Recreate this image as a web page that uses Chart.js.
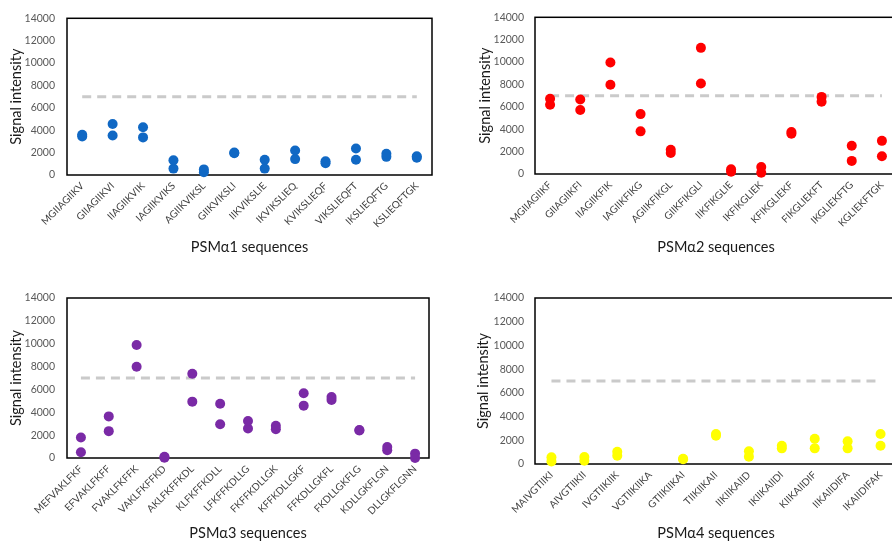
<!DOCTYPE html>
<html>
<head>
<meta charset="utf-8">
<script src="https://cdn.jsdelivr.net/npm/chart.js@4.4.1/dist/chart.umd.min.js"></script>
<style>
  html, body { margin: 0; padding: 0; background: #fff; }
  body { width: 892px; height: 542px; position: relative; overflow: hidden; }
  .panel { position: absolute; overflow: hidden; height: 271px; }
  canvas { display: block; }
</style>
</head>
<body>
<div class="panel" style="left:0;top:0;width:446px"><canvas id="c1" width="446" height="271"></canvas></div>
<div class="panel" style="left:446px;top:0;width:446px"><canvas id="c2" width="460" height="271"></canvas></div>
<div class="panel" style="left:0;top:271px;width:446px"><canvas id="c3" width="446" height="271"></canvas></div>
<div class="panel" style="left:446px;top:271px;width:446px"><canvas id="c4" width="460" height="271"></canvas></div>
<script>
// ---------- data ----------
const threshold = 7000;
const yTickMin = 0, yTickMax = 14000, yTickStep = 2000;
const yTitle = "Signal intensity";

const labels1 = ["MGIIAGIIKV","GIIAGIIKVI","IIAGIIKVIK","IAGIIKVIKS","AGIIKVIKSL","GIIKVIKSLI","IIKVIKSLIE","IKVIKSLIEQ","KVIKSLIEQF","VIKSLIEQFT","IKSLIEQFTG","KSLIEQFTGK"];
const rep1_a1 = [3600, 4550, 4270, 1310, 500, 2000, 1370, 2190, 1220, 2360, 1900, 1680];
const rep2_a1 = [3450, 3530, 3360, 570, 250, 1950, 570, 1420, 1050, 1370, 1620, 1540];

const labels2 = ["MGIIAGIIKF","GIIAGIIKFI","IIAGIIKFIK","IAGIIKFIKG","AGIIKFIKGL","GIIKFIKGLI","IIKFIKGLIE","IKFIKGLIEK","KFIKGLIEKF","FIKGLIEKFT","IKGLIEKFTG","KGLIEKFTGK"];
const rep1_a2 = [6720, 6660, 9960, 5350, 2160, 11270, 430, 630, 3760, 6890, 2530, 2960];
const rep2_a2 = [6180, 5720, 7970, 3810, 1880, 8080, 200, 110, 3590, 6460, 1170, 1590];

const labels3 = ["MEFVAKLFKF","EFVAKLFKFF","FVAKLFKFFK","VAKLFKFFKD","AKLFKFFKDL","KLFKFFKDLL","LFKFFKDLLG","FKFFKDLLGK","KFFKDLLGKF","FFKDLLGKFL","FKDLLGKFLG","KDLLGKFLGN","DLLGKFLGNN"];
const rep1_a3 = [1790, 3640, 9890, 100, 7370, 4750, 3230, 2820, 5660, 5340, 2440, 970, 380];
const rep2_a3 = [500, 2350, 7980, 30, 4930, 2960, 2580, 2520, 4580, 5080, 2400, 680, 0];

const labels4 = ["MAIVGTIIKI","AIVGTIIKII","IVGTIIKIIK","VGTIIKIIKA","GTIIKIIKAI","TIIKIIKAII","IIKIIKAIID","IKIIKAIIDI","KIIKAIIDIF","IIKAIIDIFA","IKAIIDIFAK"];
const rep1_a4 = [560, 590, 1040, null, 450, 2530, 1070, 1540, 2130, 1910, 2530];
const rep2_a4 = [220, 280, 700, null, 400, 2380, 620, 1320, 1320, 1320, 1540];

// ---------- chart builder ----------
const frame = {
  id: 'frame',
  beforeDatasetsDraw(chart) {
    const a = chart.chartArea, ctx = chart.ctx;
    ctx.save();
    ctx.strokeStyle = '#000';
    ctx.lineWidth = 1.5;
    ctx.strokeRect(a.left, a.top, a.right - a.left, a.bottom - a.top);
    ctx.restore();
  }
};

function build(id, labels, r1, r2, color, xTitle, g) {
  const ds = (d) => ({
    data: d, showLine: false, pointRadius: 5, pointHoverRadius: 5,
    pointBackgroundColor: color, pointBorderColor: color, pointBorderWidth: 0,
    borderColor: color, clip: false, order: 0
  });
  new Chart(document.getElementById(id), {
    type: 'line',
    data: {
      labels: labels,
      datasets: [
        ds(r1), ds(r2),
        { data: labels.map(() => threshold), borderColor: '#cacaca', borderWidth: 3,
          borderDash: [9, 6], pointRadius: 0, fill: false, order: 1, clip: false }
      ]
    },
    plugins: [frame],
    options: {
      responsive: false, animation: false, devicePixelRatio: 1,
      layout: { autoPadding: false, padding: { left: 0, right: g.pr, top: g.pt, bottom: 0 } },
      plugins: { legend: { display: false }, tooltip: { enabled: false } },
      scales: {
        x: {
          offset: true,
          grid: { display: false, drawTicks: false },
          border: { display: false },
          ticks: { minRotation: 45, maxRotation: 45, autoSkip: false, padding: 5,
                   color: '#404040', font: { family: 'Lato', size: 10 } },
          title: { display: true, text: xTitle, color: '#1a1a1a',
                   font: { family: 'Lato', size: 14.5 }, padding: { top: 0, bottom: g.xtb } },
          afterFit(s) { s.height = g.xh; }
        },
        y: {
          min: yTickMin, max: yTickMax,
          grid: { display: false, drawTicks: false },
          border: { display: false },
          ticks: { stepSize: yTickStep, padding: g.tp, color: '#595959',
                   font: { family: 'Lato', size: 10.5 },
                   callback: (v) => String(v) },
          title: { display: true, text: yTitle, color: '#1a1a1a',
                   font: { family: 'Lato', size: 14.5 }, padding: { top: g.ytp, bottom: 0 } },
          afterFit(s) { s.width = g.yw; }
        }
      }
    }
  });
}

build('c1', labels1, rep1_a1, rep2_a1, '#1068c4', 'PSM\u03b11 sequences',
      { pr: 14, pt: 11, xh: 96, yw: 67, tp: 12, ytp: 8, xtb: 15 });
build('c2', labels2, rep1_a2, rep2_a2, '#ff0000', 'PSM\u03b12 sequences',
      { pr: 9, pt: 10, xh: 97, yw: 89, tp: 11, ytp: 31, xtb: 15 });
build('c3', labels3, rep1_a3, rep2_a3, '#7a2aa6', 'PSM\u03b13 sequences',
      { pr: 17, pt: 27, xh: 84, yw: 67, tp: 12, ytp: 8, xtb: 0 });
build('c4', labels4, rep1_a4, rep2_a4, '#ffff00', 'PSM\u03b14 sequences',
      { pr: 9, pt: 27, xh: 78, yw: 89, tp: 11, ytp: 29, xtb: 0 });
</script>
</body>
</html>
